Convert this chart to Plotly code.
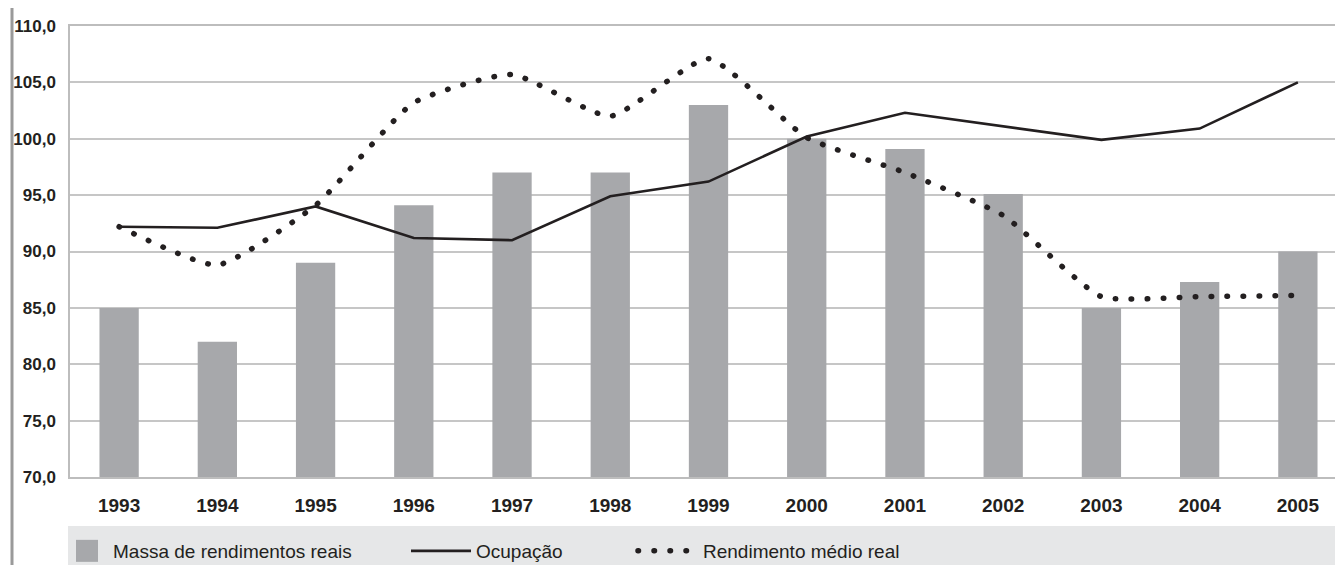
import plotly.graph_objects as go

years = ["1993", "1994", "1995", "1996", "1997", "1998", "1999",
         "2000", "2001", "2002", "2003", "2004", "2005"]
massa = [85.0, 82.0, 89.0, 94.1, 97.0, 97.0, 103.0, 100.0, 99.1, 95.1, 85.0, 87.3, 90.0]
ocupacao = [92.2, 92.1, 94.0, 91.2, 91.0, 94.9, 96.2, 100.2, 102.3, 101.1, 99.9, 100.9, 105.0]
rendimento = [92.2, 88.8, 94.1, 103.2, 105.7, 102.0, 107.1, 100.1, 97.0, 93.2, 86.0, 86.0, 86.1]
y_ticks = [70, 75, 80, 85, 90, 95, 100, 105, 110]
y_tick_text = ["70,0", "75,0", "80,0", "85,0", "90,0", "95,0", "100,0", "105,0", "110,0"]

FONT = "Liberation Sans, Arial, sans-serif"
W, H = 1343, 565
ML, MR, MT, MB = 62, 4, 18, 96
PW, PH = W - ML - MR, H - MT - MB


def px_x(px):
    return (px - ML) / PW


def px_y(py):
    return (H - MB - py) / PH


fig = go.Figure()
fig.add_trace(go.Bar(
    x=years, y=massa, name="Massa de rendimentos reais",
    marker=dict(color="#a7a8ab", line=dict(width=0)),
    legend="legend",
))
fig.add_trace(go.Scatter(
    x=years, y=ocupacao, name="Ocupação", mode="lines",
    line=dict(color="#231f20", width=2.6),
    legend="legend2",
))
fig.add_trace(go.Scatter(
    x=years, y=rendimento, name="Rendimento médio real", mode="lines",
    line=dict(color="#231f20", width=5.5, dash="0.5px,15.5px", shape="spline", smoothing=0.5),
    legend="legend3",
))

leg_common = dict(
    orientation="h", yanchor="middle", xanchor="left", y=px_y(543),
    bgcolor="rgba(0,0,0,0)", borderwidth=0,
    font=dict(family=FONT, size=19, color="#231f20"),
)

fig.update_layout(
    width=W, height=H,
    margin=dict(l=ML, r=MR, t=MT, b=MB, pad=0, autoexpand=False),
    paper_bgcolor="white", plot_bgcolor="white",
    bargap=0.6,
    showlegend=True,
    legend=dict(x=px_x(65), **leg_common),
    legend2=dict(x=px_x(398), itemwidth=60, **leg_common),
    legend3=dict(x=px_x(625), itemwidth=60, **leg_common),
    xaxis=dict(
        type="category", showgrid=False, zeroline=False, automargin=False,
        showline=True, linecolor="#bdbdbd", linewidth=1.5, mirror=True,
        ticks="", ticklabelstandoff=10,
        tickfont=dict(family=FONT, size=19, color="#231f20", weight="bold"),
    ),
    yaxis=dict(
        range=[70, 110], tickvals=y_ticks, ticktext=y_tick_text, automargin=False,
        showgrid=True, gridcolor="#c6c6c6", gridwidth=1.5, zeroline=False,
        showline=True, linecolor="#bdbdbd", linewidth=1.5, mirror=True,
        ticks="", ticklabelstandoff=9,
        tickfont=dict(family=FONT, size=17, color="#231f20", weight="bold"),
    ),
    shapes=[
        dict(type="rect", xref="paper", yref="paper",
             x0=px_x(60), x1=px_x(1338), y0=px_y(518), y1=px_y(566),
             fillcolor="#e6e7e8", line=dict(width=0), layer="below"),
        dict(type="line", xref="paper", yref="paper",
             x0=px_x(4), x1=px_x(4), y0=px_y(0), y1=px_y(566),
             line=dict(color="#9a9a9a", width=3)),
    ],
)

post = """
var gd = document.getElementsByClassName('plotly-graph-div')[0];
function tweak(){
  gd.querySelectorAll('.scatterlayer .trace path.js-line').forEach(function(p){
    if ((p.style.strokeDasharray||'').indexOf('0.5') === 0) { p.style.strokeLinecap = 'round'; }
  });
  gd.querySelectorAll('.legendlines path').forEach(function(p){
    if ((p.style.strokeDasharray||'').indexOf('0.5') === 0) { p.style.strokeLinecap = 'round'; }
  });
  gd.querySelectorAll('.legendpoints path').forEach(function(p){
    var d = p.getAttribute('d') || '';
    if (d.indexOf('M6,6H-6V-6H6Z') === 0) { p.setAttribute('d', 'M5,11H-17V-11H5Z'); }
  });
}
tweak();
gd.on('plotly_afterplot', tweak);
"""

fig.write_html("out.html", post_script=post)
